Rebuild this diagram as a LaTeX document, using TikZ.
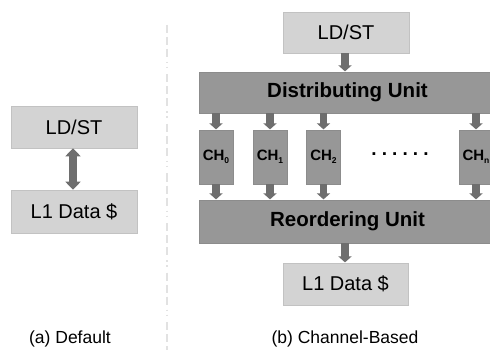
\documentclass[tikz,border=0pt]{standalone}
\usepackage{fontspec}
\setmainfont{Liberation Sans}
\usetikzlibrary{arrows.meta}
\definecolor{lightbox}{HTML}{D3D3D3}
\definecolor{lightedge}{HTML}{C2C2C2}
\definecolor{darkbox}{HTML}{979797}
\definecolor{darkedge}{HTML}{8C8C8C}
\definecolor{arrowgray}{HTML}{6E6E6E}
\definecolor{sepgray}{HTML}{E2E2E2}
\newcommand{\chsub}[1]{CH\raisebox{-3.5pt}{\fontsize{8.5}{9}\selectfont #1}}
\newcommand{\dotgap}{\hspace{5.1pt}}
\tikzset{
  lightnode/.style={draw=lightedge, line width=0.6pt, fill=lightbox, inner sep=0pt,
    font=\fontsize{20}{22}\selectfont},
  darknode/.style={draw=darkedge, line width=0.6pt, fill=darkbox, inner sep=0pt,
    font=\fontsize{20.5}{22}\selectfont\bfseries},
  chnode/.style={draw=darkedge, line width=0.6pt, fill=darkbox, inner sep=0pt,
    minimum width=34pt, minimum height=54pt, font=\fontsize{15}{17}\selectfont\bfseries},
  arr/.style={draw=arrowgray, line width=7.5pt, -{Triangle[width=13pt,length=6pt]}, shorten >=0.3pt},
  darr/.style={draw=arrowgray, line width=8pt, {Triangle[width=15pt,length=8pt]}-{Triangle[width=15pt,length=8pt]}},
  caption/.style={font=\fontsize{17.5}{20}\selectfont, inner sep=0pt},
  sepline/.style={draw=sepgray, line width=1.5pt,
    dash pattern=on 8pt off 4pt on 8pt off 4pt on 8pt off 5pt on 1.5pt off 3.5pt on 1.5pt off 6pt}
}
\begin{document}
\begin{tikzpicture}[x=1pt,y=-1pt]
\useasboundingbox (0,0) rectangle (490,350);
\clip (0,0) rectangle (490,350);
\fill[white] (0,0) rectangle (490,350);
% separator
\coordinate (septop) at (167,25);
\coordinate (sepbot) at (167,350);
\draw[sepline] (septop) -- (sepbot);
% (a) default
\node[lightnode, minimum width=126pt, minimum height=42pt] (ldsta) at (74,127) {LD/ST};
\node[lightnode, minimum width=126pt, minimum height=43pt] (lia) at (74,211.5) {L1 Data \$};
\draw[darr] ([xshift=-1pt]ldsta.south) -- ([xshift=-1pt]lia.north);
\node[caption] (capa) at (70,339) {(a) Default};
% (b) channel-based
\node[lightnode, minimum width=126pt, minimum height=41pt] (ldstb) at (346,32.5) {LD/ST};
\node[darknode, minimum width=297pt, minimum height=41pt] (dist) at (347.5,92.5) {Distributing Unit};
\node[chnode] (ch0) at (216,157) {\chsub{0}};
\node[chnode] (ch1) at (270,157) {\chsub{1}};
\node[chnode] (ch2) at (323.5,157) {\chsub{2}};
\node[chnode] (chn) at (476,157) {\chsub{n}};
\node[font=\fontsize{19}{20}\selectfont\bfseries, inner sep=0pt] (dots) at (400,154)
  {.\dotgap.\dotgap.\dotgap.\dotgap.\dotgap.};
\node[darknode, minimum width=297pt, minimum height=43pt] (reord) at (347.5,221.5) {Reordering Unit};
\node[lightnode, minimum width=125pt, minimum height=42pt] (lib) at (345.5,284) {L1 Data \$};
\node[caption] (capb) at (345,339) {(b) Channel-Based};
% arrows
\draw[arr] (ldstb.south -| 345,0) -- (dist.north -| 345,0);
\foreach \c in {ch0,ch1,ch2,chn}{
  \draw[arr] (\c |- dist.south) -- (\c.north);
  \draw[arr] (\c.south) -- (\c |- reord.north);
}
\draw[arr] (reord.south -| 345,0) -- (lib.north -| 345,0);
\end{tikzpicture}
\end{document}
